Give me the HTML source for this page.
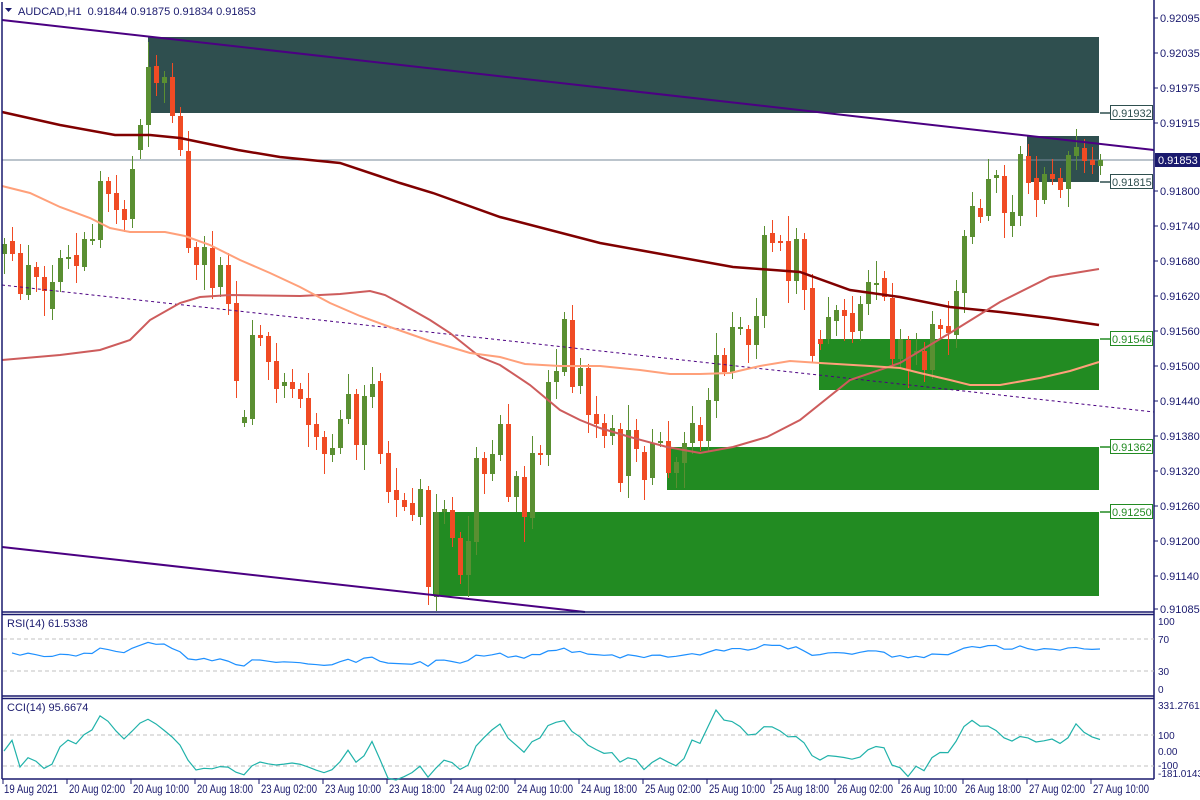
<!DOCTYPE html>
<html><head><meta charset="utf-8"><style>
html,body{margin:0;padding:0;background:#fff;width:1200px;height:800px;overflow:hidden}
svg{display:block;font-family:"Liberation Sans",sans-serif}
</style></head><body>
<svg id="s" width="1200" height="800" xmlns="http://www.w3.org/2000/svg"></svg>
<script>
(function(){
var S=document.getElementById('s');var h='';
function L(x1,y1,x2,y2,c,w,extra){h+='<line x1="'+x1+'" y1="'+y1+'" x2="'+x2+'" y2="'+y2+'" stroke="'+c+'" stroke-width="'+(w||1)+'" '+(extra||'')+'/>';}
function R(x,y,w,hh,c){h+='<rect x="'+x+'" y="'+y+'" width="'+w+'" height="'+hh+'" fill="'+c+'"/>';}
function T(x,y,t,c,sz,extra){h+='<text x="'+x+'" y="'+y+'" fill="'+(c||'#1a1a6e')+'" font-size="'+(sz||11)+'" '+(extra||'')+'>'+t+'</text>';}
function P(pts,c,w,extra){h+='<polyline fill="none" stroke="'+c+'" stroke-width="'+w+'" '+(extra||'')+' points="'+pts.map(function(p){return p[0]+','+p[1]}).join(' ')+'"/>';}
R(148,37,951,76,'#2f4f4f');
R(1027,136,72,46,'#2f4f4f');
R(819,339,280,51,'#228b22');
R(667,447,432,43,'#228b22');
R(433,512,666,84,'#228b22');
L(2,160,1154,160,'#778899',1);
var C=[[254,244],[241,254],[253,294],[295,265],[267,277],[277,291],[309,282],[282,258],[258,257],[255,266],[267,239],[239,239],[240,181],[181,194],[193,210],[209,220],[219,169],[150,125],[125,67],[66,83],[83,77],[77,116],[116,150],[151,248],[247,265],[265,247],[248,288],[287,265],[265,304],[303,381],[423,417],[419,335],[335,338],[336,362],[361,389],[386,382],[382,389],[389,399],[398,425],[424,437],[437,454],[455,448],[448,419],[419,394],[394,445],[445,396],[397,384],[381,454],[453,492],[490,500],[500,507],[503,515],[517,489],[490,587],[597,512],[512,509],[510,538],[538,575],[575,541],[542,458],[458,474],[474,454],[455,424],[424,497],[497,476],[477,517],[518,453],[453,455],[455,382],[382,371],[372,319],[320,387],[386,368],[368,415],[414,424],[423,436],[436,428],[429,483],[476,430],[430,449],[452,480],[478,443],[441,441],[441,473],[473,462],[463,443],[443,423],[425,441],[441,400],[401,355],[355,372],[373,327],[327,327],[329,345],[345,316],[316,235],[233,243],[241,242],[241,281],[281,239],[239,290],[288,356],[339,344],[339,317],[321,310],[310,316],[313,332],[331,304],[304,282],[283,283],[278,297],[298,359],[359,339],[340,370],[351,351],[351,370],[370,324],[325,329],[326,333],[335,291],[293,236],[237,206],[208,217],[216,179],[178,175],[176,213],[226,212],[216,154],[156,183],[178,200],[200,174],[174,179],[178,190],[189,155],[156,147],[148,161],[160,165],[166,160]];
var wk=[6,14,9,20,5,11,17,8,12,22,7,15,10,4,18,9,13,6,25,11];
var H=[],Lo=[],Cl=[];
for(var i=0;i<C.length;i++){
 var x=4+8*i,o=C[i][0],c=C[i][1];var bt=Math.min(o,c),bb=Math.max(o,c);
 var hi=bt-wk[i%20],lo=bb+wk[(i*7+3)%20];
 H.push(hi);Lo.push(lo);Cl.push(c);
 var col=c<o?'#5a8f32':(c>o?'#f04b24':'#5a8f32');
 L(x+0.5,hi,x+0.5,lo,col,1);
 R(x-2,bt,5,Math.max(2,bb-bt),col);
}
L(2,20,1154,150,'#4b0082',2);
L(2,547,585,612,'#4b0082',2);
L(2,285,1154,412,'#4b0082',1,'stroke-dasharray="3,3"');
P([[2,112],[60,125],[115,135],[150,135],[180,138],[238,150],[280,157],[340,163],[400,183],[433,193],[500,217],[600,243],[733,267],[800,272],[850,290],[900,297],[950,307],[1000,312],[1050,318],[1099,325]],'#800000',2.5);
P([[2,360],[60,355],[100,350],[130,340],[150,320],[180,303],[200,297],[230,295],[300,296],[340,294],[370,291],[385,295],[400,303],[430,320],[450,333],[480,357],[500,365],[530,385],[560,410],[580,420],[600,428],[630,437],[667,447],[700,453],[733,447],[767,437],[800,420],[850,380],[900,363],[950,333],[1000,302],[1050,277],[1099,269]],'#cd5c5c',2);
P([[2,186],[30,193],[60,207],[90,218],[110,228],[130,232],[165,232],[185,236],[210,245],[240,260],[270,273],[300,287],[330,303],[360,316],[390,327],[430,341],[470,353],[500,357],[525,364],[560,366],[600,366],[640,370],[670,374],[700,374],[730,373],[760,366],[790,361],[820,363],[870,366],[900,368],[920,373],[950,380],[970,385],[1000,385],[1040,378],[1070,371],[1099,362]],'#ffa07a',2);
function lab(y,t,c){L(1100,y,1110,y,c,1.5);h+='<rect x="1110.5" y="'+(y-7.5)+'" width="42" height="14" fill="#fff" stroke="'+c+'" stroke-width="1"/>';T(1112,y+4,t,c,11);}
lab(113,'0.91932','#2f4f4f');lab(182,'0.91815','#2f4f4f');lab(339,'0.91546','#228b22');lab(447,'0.91362','#228b22');lab(512,'0.91250','#228b22');
var nv='#1a1a6e';
L(2,2,2,779,nv,1.5);L(1154,0,1154,779,nv,1.5);
L(2,612,1154,612,nv,1.5);L(2,614.5,1154,614.5,nv,1.5);
L(2,696,1154,696,nv,1.5);L(2,698.5,1154,698.5,nv,1.5);
L(2,779,1154,779,nv,1.5);
var pl=[['0.92095',18],['0.92035',53],['0.91975',88],['0.91915',123],['0.91800',191],['0.91740',226],['0.91680',261],['0.91620',296],['0.91560',331],['0.91500',366],['0.91440',401],['0.91380',436],['0.91320',471],['0.91260',506],['0.91200',541],['0.91140',576],['0.91085',609]];
pl.forEach(function(p){L(1154,p[1],1158,p[1],nv,1);T(1160,p[1]+4,p[0],nv,11);});
R(1155,153,45,14,'#1a1a6e');T(1158,164,'0.91853','#fff',11);
h+='<polygon points="5,8 12,8 8.5,12" fill="#1a1a6e"/>';
T(18,15,'AUDCAD,H1&#160;&#160;0.91844 0.91875 0.91834 0.91853','#1a1a6e',11);
L(3,639,1154,639,'#c0c0c0',1,'stroke-dasharray="4,3"');L(3,671,1154,671,'#c0c0c0',1,'stroke-dasharray="4,3"');
T(7,627,'RSI(14) 61.5338','#1a1a6e',11);
T(1158,625,'100',nv,10);T(1158,643,'70',nv,10);T(1158,675,'30',nv,10);T(1158,693,'0',nv,10);
function pr(y){return 0.92095-(y-18)/58515;}
var N=C.length;
var rs=[],ag=0,al=0;
for(i=1;i<N;i++){var d=pr(Cl[i])-pr(Cl[i-1]);var g=d>0?d:0,l=d<0?-d:0;
 if(i<=14){ag+=g/14;al+=l/14;}else{ag=(ag*13+g)/14;al=(al*13+l)/14;}
 var v=al==0?100:100-100/(1+ag/al); if(i<14)v=58+(v-58)*i/14; rs.push([4+8*i,689-0.68*Math.max(15,Math.min(85,v*0.8+10))]);}
P(rs,'#1e90ff',1.2);
L(3,735,1154,735,'#c0c0c0',1,'stroke-dasharray="4,3"');L(3,766,1154,766,'#c0c0c0',1,'stroke-dasharray="4,3"');
T(7,711,'CCI(14) 95.6674','#1a1a6e',11);
T(1158,709,'331.2761',nv,10);T(1158,739,'100',nv,10);T(1158,755,'0.00',nv,10);T(1158,769,'-100',nv,10);T(1158,777,'-181.0143',nv,10);
var tpv=[];for(i=0;i<N;i++)tpv.push((pr(H[i])+pr(Lo[i])+pr(Cl[i]))/3);
var cc=[];
for(i=0;i<N;i++){var a=Math.max(0,i-13),n=i-a+1,sm=0,j;for(j=a;j<=i;j++)sm+=tpv[j];sm/=n;var md=0;for(j=a;j<=i;j++)md+=Math.abs(tpv[j]-sm);md/=n;
 var v2=md==0?0:(tpv[i]-sm)/(0.015*md);v2=Math.max(-181,Math.min(331,v2));cc.push([4+8*i,751-0.16*v2]);}
P(cc,'#20b2aa',1.2);
var tl=['19 Aug 2021','20 Aug 02:00','20 Aug 10:00','20 Aug 18:00','23 Aug 02:00','23 Aug 10:00','23 Aug 18:00','24 Aug 02:00','24 Aug 10:00','24 Aug 18:00','25 Aug 02:00','25 Aug 10:00','25 Aug 18:00','26 Aug 02:00','26 Aug 10:00','26 Aug 18:00','27 Aug 02:00','27 Aug 10:00'];
tl.forEach(function(t,k){var x=k==0?3:67+64*(k-1);L(x,779,x,784,nv,1);T(x+(k==0?1:2),793,t,nv,12,'textLength="'+(k==0?54:56)+'" lengthAdjust="spacingAndGlyphs"');});
S.innerHTML=h;
})();
</script>
</body></html>
